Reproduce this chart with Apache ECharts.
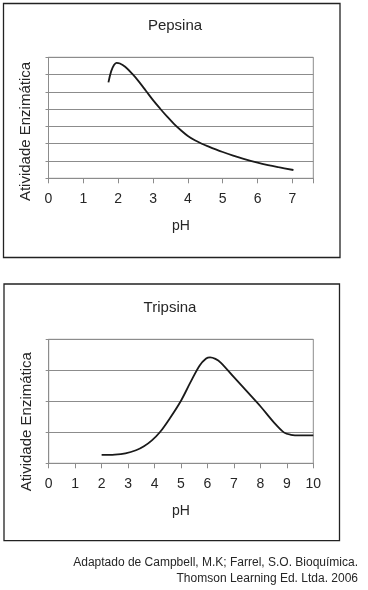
<!DOCTYPE html>
<html>
<head>
<meta charset="utf-8">
<script src="https://cdn.jsdelivr.net/npm/echarts@6/dist/echarts.min.js"></script>
<style>
html,body{margin:0;padding:0;background:#fff;}
#c{width:368px;height:590px;}
</style>
</head>
<body>
<div id="c"></div>
<script>
// Pepsina: pH vs relative enzymatic activity (grid units 0..7)
var pepsinaPH = [1.72, 1.8, 1.88, 1.95, 2.05, 2.2, 2.4, 2.6, 2.8, 3.0, 3.2, 3.4, 3.6, 3.8, 4.0, 4.2, 4.4, 4.6, 4.8, 5.0, 5.3, 5.6, 6.0, 6.3, 6.6, 7.03];
var pepsinaAct = [5.55, 6.2, 6.55, 6.68, 6.64, 6.45, 6.05, 5.58, 5.05, 4.52, 4.04, 3.58, 3.15, 2.78, 2.45, 2.2, 2.0, 1.83, 1.67, 1.52, 1.31, 1.12, 0.9, 0.76, 0.64, 0.48];
// Tripsina: pH vs relative enzymatic activity (grid units 0..4)
var tripsinaPH = [2.0, 2.5, 2.9, 3.3, 3.6, 3.9, 4.2, 4.6, 5.0, 5.35, 5.7, 5.95, 6.1, 6.3, 6.5, 7.0, 7.5, 8.0, 8.5, 8.9, 9.15, 9.5, 10.0];
var tripsinaAct = [0.27, 0.28, 0.32, 0.42, 0.55, 0.74, 1.0, 1.48, 2.02, 2.6, 3.15, 3.38, 3.42, 3.37, 3.25, 2.78, 2.31, 1.84, 1.33, 0.99, 0.92, 0.90, 0.90];

var titles = ['Pepsina', 'Tripsina'];
var xName = 'pH';
var yName = 'Atividade Enzimática';
var sourceLines = ['Adaptado de Campbell, M.K; Farrel, S.O. Bioquímica.', 'Thomson Learning Ed. Ltda. 2006'];

function pairs(xs, ys) { return xs.map(function (x, i) { return [x, ys[i]]; }); }

var FONT = '"Liberation Sans", Arial, sans-serif';
var TXT = '#262626';
var GRIDC = '#8c8c8c';

function xAxisCfg(gi, max) {
  return {
    type: 'value', gridIndex: gi, min: 0, max: max, interval: 1,
    name: xName, nameLocation: 'middle', nameGap: 41,
    nameTextStyle: { fontFamily: FONT, fontSize: 14, color: TXT },
    axisLine: { show: true, lineStyle: { color: GRIDC, width: 1 } },
    axisTick: { show: true, length: 5, lineStyle: { color: GRIDC } },
    axisLabel: {
      margin: 14, fontFamily: FONT, fontSize: 14, color: TXT,
      formatter: function (v) { return Math.abs(v - Math.round(v)) < 1e-6 ? String(Math.round(v)) : ''; }
    },
    splitLine: { show: false }
  };
}
function yAxisCfg(gi, max) {
  return {
    type: 'value', gridIndex: gi, min: 0, max: max, interval: 1,
    axisLine: { show: true, lineStyle: { color: GRIDC, width: 1 } },
    axisTick: { show: true, length: 3, lineStyle: { color: GRIDC } },
    axisLabel: { show: false },
    splitLine: { show: true, lineStyle: { color: GRIDC, width: 1 } }
  };
}

var chart = echarts.init(document.getElementById('c'), null, { renderer: 'canvas' });
chart.setOption({
  backgroundColor: '#fff',
  animation: false,
  grid: [
    { left: 48.5, top: 57.3, width: 264.8, height: 121, show: true, borderColor: GRIDC, borderWidth: 1, backgroundColor: 'transparent' },
    { left: 48.7, top: 339.3, width: 264.6, height: 124, show: true, borderColor: GRIDC, borderWidth: 1, backgroundColor: 'transparent' }
  ],
  xAxis: [xAxisCfg(0, 7.6), xAxisCfg(1, 10)],
  yAxis: [yAxisCfg(0, 7), yAxisCfg(1, 4)],
  series: [
    { type: 'line', xAxisIndex: 0, yAxisIndex: 0, data: pairs(pepsinaPH, pepsinaAct), smooth: 0.35, showSymbol: false, lineStyle: { color: '#1a1a1a', width: 1.8 } },
    { type: 'line', xAxisIndex: 1, yAxisIndex: 1, data: pairs(tripsinaPH, tripsinaAct), smooth: 0.35, showSymbol: false, lineStyle: { color: '#1a1a1a', width: 1.8 } }
  ],
  graphic: [
    { type: 'rect', shape: { x: 3.5, y: 3.5, width: 336.5, height: 254 }, style: { fill: 'none', stroke: '#222', lineWidth: 1.3 }, z: 1 },
    { type: 'rect', shape: { x: 4, y: 284, width: 335.5, height: 256.7 }, style: { fill: 'none', stroke: '#222', lineWidth: 1.3 }, z: 1 },
    { type: 'text', x: 175, y: 25.5, style: { text: titles[0], font: '15px ' + FONT, fill: TXT, textAlign: 'center', textVerticalAlign: 'middle' } },
    { type: 'text', x: 170, y: 308, style: { text: titles[1], font: '15px ' + FONT, fill: TXT, textAlign: 'center', textVerticalAlign: 'middle' } },
    { type: 'text', x: 26, y: 131.5, rotation: Math.PI / 2, style: { text: yName, font: '15px ' + FONT, fill: TXT, textAlign: 'center', textVerticalAlign: 'middle' } },
    { type: 'text', x: 26.5, y: 421.7, rotation: Math.PI / 2, style: { text: yName, font: '15px ' + FONT, fill: TXT, textAlign: 'center', textVerticalAlign: 'middle' } },
    { type: 'text', x: 358, y: 563, style: { text: sourceLines[0], font: '12px ' + FONT, fill: TXT, textAlign: 'right', textVerticalAlign: 'middle' } },
    { type: 'text', x: 358, y: 578.5, style: { text: sourceLines[1], font: '12px ' + FONT, fill: TXT, textAlign: 'right', textVerticalAlign: 'middle' } }
  ]
});
</script>
</body>
</html>
